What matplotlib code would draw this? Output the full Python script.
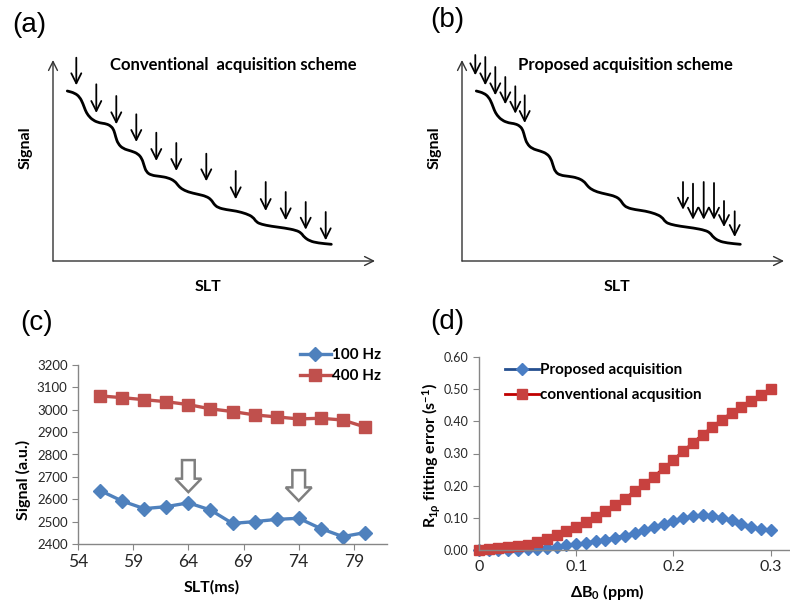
import matplotlib
matplotlib.use("Agg")
import matplotlib.pyplot as plt
from matplotlib.path import Path
from matplotlib.patches import PathPatch

plt.rcParams['font.family'] = ['Lato', 'DejaVu Sans']
plt.rcParams['mathtext.fontset'] = 'custom'
plt.rcParams['mathtext.rm'] = 'Lato:bold'
plt.rcParams['mathtext.bf'] = 'Lato:bold'
plt.rcParams['mathtext.it'] = 'Lato:bold'
plt.rcParams['mathtext.default'] = 'bf'
plt.rcParams['mathtext.fallback'] = 'stixsans'

# ---- schematic panels (a) and (b): arbitrary units ----
curve_slt = [14.3, 21.7, 26.7, 30.0, 32.3, 35.0, 40.0, 46.7, 53.3, 58.3, 61.0,
             62.7, 65.0, 70.0, 78.3, 85.0, 89.0, 91.0, 93.3, 98.3, 106.7, 115.0,
             121.7, 125.0, 128.3, 135.0, 145.0, 153.3, 158.3, 161.0, 165.0,
             173.3, 183.3, 193.3, 200.0, 203.3, 208.3, 218.3, 231.7, 243.3,
             248.3, 251.0, 256.7, 265.0, 278.3]
curve_signal = [170.0, 168.0, 164.0, 157.3, 150.7, 145.7, 140.7, 138.0, 137.3,
                134.7, 130.7, 124.0, 117.3, 112.3, 110.0, 107.3, 102.3, 95.7,
                89.0, 85.7, 84.7, 83.3, 80.0, 75.7, 72.3, 69.0, 66.7, 64.7, 61.3,
                56.7, 53.3, 51.3, 50.0, 47.3, 44.0, 39.0, 36.7, 34.7, 33.0, 30.7,
                28.0, 24.0, 20.0, 18.0, 16.7]

conv_slt = [23.3, 43.3, 63.3, 83.3, 103.3, 123.3, 153.3, 182.7, 212.7, 232.7, 252.7, 272.7]
conv_top = [203.3, 176.7, 165.0, 146.7, 128.3, 118.0, 107.3, 90.0, 79.0, 69.0, 59.0, 49.0]
conv_tip = [175.7, 148.0, 136.7, 119.0, 100.0, 90.0, 79.7, 61.7, 50.0, 40.7, 31.3, 20.7]

prop_slt = [13.3, 23.3, 33.3, 43.3, 53.3, 62.7, 221.0, 231.0, 241.7, 252.0, 262.0, 272.7]
prop_top = [206.0, 204.0, 194.0, 184.0, 174.7, 165.7, 79.0, 77.3, 79.0, 78.0, 60.0, 49.7]
prop_tip = [185.7, 175.7, 165.7, 156.7, 147.3, 138.0, 51.3, 41.3, 41.3, 41.3, 34.0, 24.0]

# ---- panel (c) ----
slt_ms = [56, 58, 60, 62, 64, 66, 68, 70, 72, 74, 76, 78, 80]
sig_100hz = [2639, 2592, 2558, 2567, 2584, 2552, 2492, 2500, 2510, 2515, 2469, 2433, 2451]
sig_400hz = [3062, 3054, 3045, 3036, 3023, 3004, 2992, 2977, 2968, 2959, 2962, 2954, 2923]
callout_slt = [64, 74]
callout_top = [2775, 2730]
callout_tip = [2632, 2593]

# ---- panel (d) ----
delta_b0 = [0.00, 0.01, 0.02, 0.03, 0.04, 0.05, 0.06, 0.07, 0.08, 0.09, 0.10,
            0.11, 0.12, 0.13, 0.14, 0.15, 0.16, 0.17, 0.18, 0.19, 0.20,
            0.21, 0.22, 0.23, 0.24, 0.25, 0.26, 0.27, 0.28, 0.29, 0.30]
err_proposed = [0.000, 0.000, 0.000, 0.000, 0.000, 0.002, 0.004, 0.007, 0.010,
                0.014, 0.018, 0.023, 0.027, 0.032, 0.038, 0.045, 0.053, 0.062,
                0.071, 0.081, 0.090, 0.099, 0.105, 0.108, 0.106, 0.100, 0.092,
                0.082, 0.071, 0.064, 0.062]
err_conventional = [0.000, 0.002, 0.005, 0.008, 0.012, 0.017, 0.025, 0.035,
                    0.047, 0.059, 0.073, 0.088, 0.104, 0.121, 0.140, 0.160,
                    0.182, 0.205, 0.228, 0.254, 0.280, 0.307, 0.333, 0.358,
                    0.383, 0.405, 0.427, 0.445, 0.463, 0.482, 0.501]

W, H = 790, 606


def rect(l, t, r, b):
    return [l / W, 1 - b / H, (r - l) / W, (b - t) / H]


fig = plt.figure(figsize=(7.9, 6.06), dpi=100)


def smooth_path(xs, ys):
    # quadratic bezier through midpoints, the read points act as control points
    pts = list(zip(xs, ys))
    verts = [pts[0], ((pts[0][0] + pts[1][0]) / 2, (pts[0][1] + pts[1][1]) / 2)]
    codes = [Path.MOVETO, Path.LINETO]
    for i in range(1, len(pts) - 1):
        mid = ((pts[i][0] + pts[i + 1][0]) / 2, (pts[i][1] + pts[i + 1][1]) / 2)
        verts += [pts[i], mid]
        codes += [Path.CURVE3, Path.CURVE3]
    verts.append(pts[-1])
    codes.append(Path.LINETO)
    return Path(verts, codes)


def schematic(pos, title, title_x, arr_x, arr_top, arr_tip):
    ax = fig.add_axes(pos)
    ax.set_xlim(0, 322)
    ax.set_ylim(0, 201)
    ax.axis('off')
    ax.annotate('', xy=(322, 0), xytext=(0, 0),
                arrowprops=dict(arrowstyle='->', lw=1.0, color='#333333',
                                shrinkA=0, shrinkB=0, mutation_scale=16),
                annotation_clip=False)
    ax.annotate('', xy=(0, 201), xytext=(0, 0),
                arrowprops=dict(arrowstyle='->', lw=1.0, color='#333333',
                                shrinkA=0, shrinkB=0, mutation_scale=16),
                annotation_clip=False)
    ax.add_patch(PathPatch(smooth_path(curve_slt, curve_signal), fill=False,
                           ec='black', lw=2.0, capstyle='round', clip_on=False))
    for x, t0, t1 in zip(arr_x, arr_top, arr_tip):
        ax.annotate('', xy=(x, t1), xytext=(x, t0),
                    arrowprops=dict(arrowstyle='->', lw=1.3, color='black',
                                    shrinkA=0, shrinkB=0, mutation_scale=18),
                    annotation_clip=False)
    ax.text(title_x, 196, title, fontsize=12, fontweight='bold',
            ha='left', va='center')
    ax.text(-27, 113, 'Signal', rotation=90, fontsize=11.5, fontweight='bold',
            ha='center', va='center')
    ax.text(155, -26, 'SLT', fontsize=11.5, fontweight='bold',
            ha='center', va='center')
    return ax


schematic(rect(53, 60, 375, 261), 'Conventional  acquisition scheme', 57,
          conv_slt, conv_top, conv_tip)
schematic(rect(462, 60, 784, 261), 'Proposed acquisition scheme', 56,
          prop_slt, prop_top, prop_tip)


def style_axes(ax):
    for s in ['top', 'right']:
        ax.spines[s].set_visible(False)
    for s in ['left', 'bottom']:
        ax.spines[s].set_color('#868686')
        ax.spines[s].set_linewidth(1.0)
    ax.tick_params(direction='out', color='#868686', length=4, labelcolor='#262626')


# panel (c)
axc = fig.add_axes(rect(78, 365, 387, 544))
style_axes(axc)
blue = '#4F81BD'
red = '#C0504D'
axc.plot(slt_ms, sig_100hz, color=blue, lw=2.4, marker='D', ms=7.5,
         label='100 Hz', clip_on=False)
axc.plot(slt_ms, sig_400hz, color=red, lw=2.4, marker='s', ms=8,
         label='400 Hz', clip_on=False)
for x, t0, t1 in zip(callout_slt, callout_top, callout_tip):
    axc.arrow(x, t0, 0, t1 - t0, width=1.15, head_width=2.35,
              head_length=60, length_includes_head=True,
              fc='white', ec='#7F7F7F', lw=1.8)
axc.set_xlim(54, 82)
axc.set_ylim(2400, 3200)
axc.set_xticks([54, 59, 64, 69, 74, 79])
axc.set_yticks(range(2400, 3201, 100))
axc.tick_params(axis='x', labelsize=12.5)
axc.tick_params(axis='y', labelsize=9.5)
axc.set_ylabel('Signal (a.u.)', fontsize=11.5, fontweight='bold', va='center')
axc.yaxis.set_label_coords(-0.178, 0.357)
axc.set_xlabel('SLT(ms)', fontsize=11.5, fontweight='bold', va='center')
axc.xaxis.set_label_coords(0.434, -0.24)
axc.legend(loc='upper left', bbox_to_anchor=(300 / W, 1 - 348 / H),
           bbox_transform=fig.transFigure, frameon=False,
           prop=dict(size=11, weight='bold'), handlelength=2.0,
           handletextpad=0.1, borderpad=0, borderaxespad=0, labelspacing=0.45)

# panel (d)
axd = fig.add_axes(rect(479, 357, 790, 550))
style_axes(axd)
axd.plot(delta_b0, err_proposed, color='#254F8F', lw=2.0, marker='D', ms=6.5,
         mfc='#4A7EC4', mec='#4A7EC4', label='Proposed acquisition', clip_on=False)
axd.plot(delta_b0, err_conventional, color='#C00000', lw=2.0, marker='s', ms=7,
         mfc='#C8413F', mec='#C8413F', label='conventional acqusition', clip_on=False)
axd.set_xlim(0, 0.32)
axd.set_ylim(0, 0.6)
axd.set_xticks([0, 0.1, 0.2, 0.3])
axd.set_xticklabels(['0', '0.1', '0.2', '0.3'])
axd.set_yticks([0, 0.1, 0.2, 0.3, 0.4, 0.5, 0.6])
axd.set_yticklabels(['%.2f' % v for v in [0, 0.1, 0.2, 0.3, 0.4, 0.5, 0.6]])
axd.tick_params(axis='x', labelsize=11.5)
axd.tick_params(axis='y', labelsize=9)
axd.set_ylabel(r'R$_{1\rho}$ fitting error (s$^{-1}$)', fontsize=11.5,
               fontweight='bold', va='center')
axd.yaxis.set_label_coords(-0.151, 0.492)
axd.set_xlabel('ΔB$_0$ (ppm)', fontsize=11.5, fontweight='bold', va='center')
axd.xaxis.set_label_coords(0.413, -0.218)
axd.legend(loc='upper left', bbox_to_anchor=(505 / W, 1 - 363 / H),
           bbox_transform=fig.transFigure, frameon=False,
           prop=dict(size=11, weight='bold'), handlelength=2.2,
           handletextpad=0.1, borderpad=0, borderaxespad=0, labelspacing=0.75)

for lab, x, y in [('(a)', 29, 25), ('(b)', 447, 20), ('(c)', 37, 323), ('(d)', 447, 322)]:
    fig.text(x / W, 1 - y / H, lab, fontsize=20, family='Liberation Sans',
             ha='center', va='center')

fig.savefig('out.png', dpi=100)
